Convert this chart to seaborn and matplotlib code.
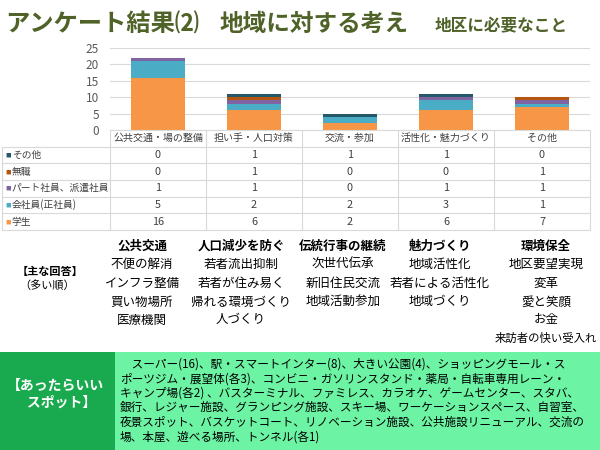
import numpy as np
import pandas as pd
import matplotlib
matplotlib.use("Agg")
import matplotlib.pyplot as plt
import matplotlib.patches as mpatches
import seaborn as sns

# chart data
categories = ["公共交通・場の整備", "担い手・人口対策", "交流・参加", "活性化・魅力づくり", "その他"]
groups = ["学生", "会社員(正社員)", "パート社員、派遣社員", "無職", "その他"]  # bottom -> top
gakusei = [16, 6, 2, 6, 7]
kaishain = [5, 2, 2, 3, 1]
part = [1, 1, 0, 1, 1]
mushoku = [0, 1, 0, 0, 1]
sonota = [0, 1, 1, 1, 0]
colors = ["#F79646", "#4BACC6", "#8064A2", "#B4560F", "#25596A"]

# answers below the chart
answer_heads = ["公共交通", "人口減少を防ぐ", "伝統行事の継続", "魅力づくり", "環境保全"]
answer_lists = [
    ["不便の解消", "インフラ整備", "買い物場所", "医療機関"],
    ["若者流出抑制", "若者が住み易く", "帰れる環境づくり", "人づくり"],
    ["次世代伝承", "新旧住民交流", "地域活動参加"],
    ["地域活性化", "若者による活性化", "地域づくり"],
    ["地区要望実現", "変革", "愛と笑顔", "お金", "来訪者の快い受入れ"],
]
spot_lines = [
    "　スーパー(16)、駅・スマートインター(8)、大きい公園(4)、ショッピングモール・ス",
    "ポーツジム・展望体(各3)、コンビニ・ガソリンスタンド・薬局・自転車専用レーン・",
    "キャンプ場(各2) 、バスターミナル、ファミレス、カラオケ、ゲームセンター、スタバ、",
    "銀行、レジャー施設、グランピング施設、スキー場、ワーケーションスペース、自習室、",
    "夜景スポット、バスケットコート、リノベーション施設、公共施設リニューアル、交流の",
    "場、本屋、遊べる場所、トンネル(各1)",
]

sns.set_theme(style="white")
plt.rcParams['font.family'] = ['Noto Sans CJK JP', 'DejaVu Sans']

W, H = 600, 450


def px_rect(x0, y0, x1, y1):
    return [x0 / W, 1 - y1 / H, (x1 - x0) / W, (y1 - y0) / H]


fig = plt.figure(figsize=(6, 4.5), dpi=100)
fig.patch.set_facecolor("white")

# stacked bars
ax = fig.add_axes(px_rect(110, 48, 590, 130))
series = [gakusei, kaishain, part, mushoku, sonota]
bottom = np.zeros(len(categories))
for vals, col in zip(series, colors):
    sns.barplot(x=categories, y=vals, bottom=bottom, color=col, width=0.57,
                saturation=1, ax=ax, linewidth=0)
    bottom = bottom + np.array(vals)
ax.set_xlim(-0.5, 4.5)
ax.set_ylim(0, 25)
ax.set_yticks(range(0, 26, 5))
ax.yaxis.grid(True, color="#D9D9D9", linewidth=0.8)
ax.set_axisbelow(True)
for s in ax.spines.values():
    s.set_visible(False)
ax.set_xticks([])
ax.tick_params(axis="y", labelsize=8.5, labelcolor="#595959", pad=8, length=0)
ax.set_ylabel("")

# data table under the chart
tax = fig.add_axes(px_rect(2, 130, 590, 230))
left = -0.5 - 108 / 96
tax.set_xlim(left, 4.5)
tax.set_ylim(6, 0)
tax.axis("off")
lc = "#D9D9D9"
for i in range(6):
    x = -0.5 + i
    tax.plot([x, x], [0, 6], color=lc, lw=0.8, clip_on=False)
tax.plot([left, left], [1, 6], color=lc, lw=0.8, clip_on=False)
tax.plot([-0.5, 4.5], [0, 0], color=lc, lw=0.8, clip_on=False)
for r in range(1, 7):
    tax.plot([left, 4.5], [r, r], color=lc, lw=0.8, clip_on=False)
for j, c in enumerate(categories):
    tax.text(j, 0.5, c, ha="center", va="center", fontsize=7.2, color="#404040")
row_names = list(reversed(groups))
row_vals = list(reversed(series))
row_cols = list(reversed(colors))
for r, (name, vals, col) in enumerate(zip(row_names, row_vals, row_cols)):
    y = r + 1.5
    tax.text(left + 0.04, y, "■", ha="left", va="center", fontsize=4, color=col)
    tax.text(left + 0.1, y, name, ha="left", va="center", fontsize=7, color="#404040")
    for j, v in enumerate(vals):
        tax.text(j, y, str(v), ha="center", va="center", fontsize=7.8, color="#404040")

# overlay for titles, answers and spot box
ov = fig.add_axes([0, 0, 1, 1])
ov.set_xlim(0, W)
ov.set_ylim(H, 0)
ov.axis("off")
ov.set_zorder(-1)

title_col = "#4F6228"
ov.text(5, 24, "アンケート結果⑵", fontsize=17.5, fontweight="bold", color=title_col, va="center")
ov.text(219, 24, "地域に対する考え", fontsize=17, fontweight="bold", color=title_col, va="center")
ov.text(435, 26, "地区に必要なこと", fontsize=12, fontweight="bold", color=title_col, va="center")

col_x = [142, 241, 343, 440, 546]
row_y = [246, 264, 283, 302, 320, 338]
for cx, head, items in zip(col_x, answer_heads, answer_lists):
    ov.text(cx, row_y[0], head, ha="center", va="center", fontsize=9, fontweight="bold", color="black")
    for k, it in enumerate(items):
        fs = 8.2 if len(it) > 8 else 9
        ov.text(cx, row_y[k + 1], it, ha="center", va="center", fontsize=fs, color="black")
ov.text(50, 271, "【主な回答】", ha="center", va="center", fontsize=8, fontweight="bold", color="black")
ov.text(47, 286, "（多い順）", ha="center", va="center", fontsize=8, color="black")

ov.add_patch(mpatches.Rectangle((0, 352), 115, 98, facecolor="#19A94E", edgecolor="none"))
ov.add_patch(mpatches.Rectangle((115, 352), 485, 98, facecolor="#6CF4A4", edgecolor="none"))
ov.text(55, 394, "【あったらいい\n　スポット】", ha="center", va="center", fontsize=10,
        fontweight="bold", color="white", linespacing=1.25)
for k, line in enumerate(spot_lines):
    ov.text(120, 364 + k * 14.6, line, ha="left", va="center", fontsize=8.4, color="black")

fig.savefig("out.png", dpi=100)
